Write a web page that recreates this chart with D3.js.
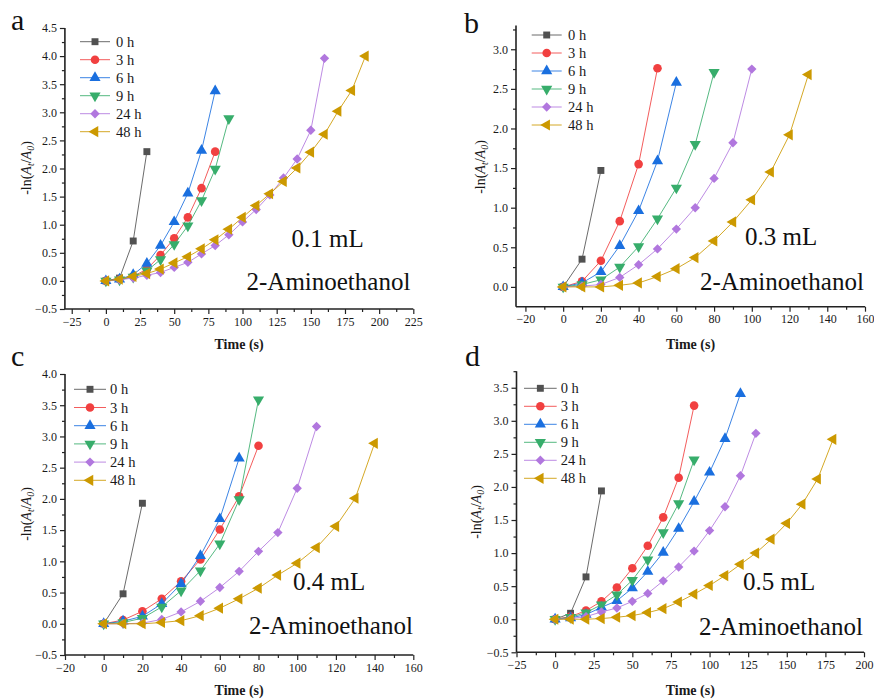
<!DOCTYPE html>
<html>
<head>
<meta charset="utf-8">
<script src="https://cdn.jsdelivr.net/npm/d3@7"></script>
<style>
  html, body { margin: 0; padding: 0; background: #fff; }
  svg { display: block; font-family: "Liberation Serif", "Times New Roman", serif; }
  svg text { font-family: "Liberation Serif", "Times New Roman", serif; }
</style>
</head>
<body>
<svg id="chart" width="874" height="699"></svg>
<script>
// Series labels (aging time of the solution) and sampling times in seconds
const seriesNames = ["0 h", "3 h", "6 h", "9 h", "24 h", "48 h"];
const times = [0, 10, 20, 30, 40, 50, 60, 70, 80, 90, 100, 110, 120, 130, 140, 150, 160, 170, 180, 190];

// Panel a: 0.1 mL 2-Aminoethanol, -ln(At/A0)
const a0h  = [0, 0.05, 0.71, 2.30];
const a3h  = [0, 0.03, 0.08, 0.21, 0.46, 0.76, 1.13, 1.65, 2.30];
const a6h  = [0, 0.03, 0.11, 0.31, 0.63, 1.05, 1.56, 2.32, 3.38];
const a9h  = [0, 0.02, 0.07, 0.18, 0.38, 0.65, 0.98, 1.43, 1.99, 2.89];
const a24h = [0, 0.02, 0.05, 0.10, 0.15, 0.24, 0.33, 0.48, 0.63, 0.82, 1.05, 1.27, 1.53, 1.83, 2.17, 2.68, 3.96];
const a48h = [0, 0.03, 0.08, 0.13, 0.21, 0.32, 0.43, 0.57, 0.73, 0.92, 1.13, 1.34, 1.55, 1.77, 2.01, 2.29, 2.61, 3.02, 3.39, 4.00];

// Panel b: 0.3 mL
const b0h  = [0, 0.35, 1.47];
const b3h  = [0, 0.07, 0.33, 0.83, 1.55, 2.76];
const b6h  = [0, 0.05, 0.19, 0.52, 0.96, 1.59, 2.58];
const b9h  = [0, 0.03, 0.09, 0.25, 0.51, 0.86, 1.25, 1.80, 2.71];
const b24h = [0, 0.01, 0.03, 0.12, 0.28, 0.48, 0.73, 1.00, 1.37, 1.82, 2.75];
const b48h = [0, 0.00, 0.00, 0.02, 0.05, 0.13, 0.23, 0.37, 0.58, 0.82, 1.10, 1.45, 1.92, 2.68];

// Panel c: 0.4 mL
const c0h  = [0, 0.48, 1.93];
const c3h  = [0, 0.06, 0.20, 0.40, 0.68, 1.03, 1.51, 2.04, 2.85];
const c6h  = [0, 0.04, 0.12, 0.32, 0.64, 1.09, 1.68, 2.65];
const c9h  = [0, 0.02, 0.09, 0.27, 0.53, 0.85, 1.28, 1.99, 3.59];
const c24h = [0, 0.00, 0.01, 0.07, 0.19, 0.36, 0.58, 0.84, 1.16, 1.46, 2.17, 3.16];
const c48h = [0, 0.00, 0.00, 0.02, 0.05, 0.13, 0.25, 0.40, 0.57, 0.78, 0.97, 1.22, 1.56, 2.01, 2.89];

// Panel d: 0.5 mL
const d0h  = [0, 0.09, 0.64, 1.94];
const d3h  = [0, 0.04, 0.13, 0.27, 0.48, 0.77, 1.11, 1.54, 2.14, 3.23];
const d6h  = [0, 0.02, 0.07, 0.18, 0.28, 0.47, 0.72, 1.01, 1.37, 1.78, 2.22, 2.73, 3.41];
const d9h  = [0, 0.03, 0.10, 0.22, 0.37, 0.59, 0.90, 1.31, 1.75, 2.41];
const d24h = [0, 0.01, 0.04, 0.11, 0.17, 0.27, 0.39, 0.58, 0.79, 1.03, 1.34, 1.70, 2.17, 2.81];
const d48h = [0, 0.00, 0.00, 0.01, 0.03, 0.055, 0.10, 0.16, 0.26, 0.38, 0.51, 0.66, 0.83, 1.00, 1.21, 1.45, 1.74, 2.12, 2.72];

// Axis tick labels
const xTicksA = [-25, 0, 25, 50, 75, 100, 125, 150, 175, 200, 225];
const xTicksB = [-20, 0, 20, 40, 60, 80, 100, 120, 140, 160];
const xTicksC = [-20, 0, 20, 40, 60, 80, 100, 120, 140, 160];
const xTicksD = [-25, 0, 25, 50, 75, 100, 125, 150, 175, 200];
const yTicksA = [-0.5, 0, 0.5, 1, 1.5, 2, 2.5, 3, 3.5, 4, 4.5];
const yTicksB = [0, 0.5, 1, 1.5, 2, 2.5, 3];
const yTicksC = [-0.5, 0, 0.5, 1, 1.5, 2, 2.5, 3, 3.5, 4];
const yTicksD = [-0.5, 0, 0.5, 1, 1.5, 2, 2.5, 3, 3.5];

const volumeLabels = ["0.1 mL", "0.3 mL", "0.4 mL", "0.5 mL"];
const panelLetters = ["a", "b", "c", "d"];

// Series styling
const colors = ["#515151", "#F14040", "#1A6FDF", "#37AD6B", "#B177DE", "#CC9900"];
const shapes = [
  { type: d3.symbolSquare, size: 48, rot: 0 },
  { type: d3.symbolCircle, size: 58, rot: 0 },
  { type: d3.symbolTriangle, size: 54, rot: 0 },
  { type: d3.symbolTriangle, size: 54, rot: 180 },
  { type: d3.symbolSquare, size: 44, rot: 45 },
  { type: d3.symbolTriangle, size: 54, rot: -90 }
];

// Layout of the four panels
const panels = [
  { letter: 0, values: [a0h, a3h, a6h, a9h, a24h, a48h],
    xDomain: [-30, 225], xRange: [64.9, 413.3], yDomain: [-0.5, 4.5], yRange: [309, 28],
    xTicks: xTicksA, yTicks: yTicksA, xMinor: 12.5, yMinor: 0.25,
    letterPos: [11, 30], legend: { x0: 80, x1: 110, tx: 116, y0: 41.7, dy: 18 },
    volPos: [291.5, 246.5], namePos: [246.5, 290], timeY: 349, yTitle: [31, 168] },
  { letter: 1, values: [b0h, b3h, b6h, b9h, b24h, b48h],
    xDomain: [-25, 160], xRange: [516, 865], yDomain: [-0.25, 3.3], yRange: [306.7, 25.5],
    xTicks: xTicksB, yTicks: yTicksB, xMinor: 10, yMinor: 0.25,
    letterPos: [464, 33], legend: { x0: 531.7, x1: 561.7, tx: 568, y0: 35, dy: 18 },
    volPos: [745, 245], namePos: [700, 290], timeY: 349, yTitle: [485, 167] },
  { letter: 2, values: [c0h, c3h, c6h, c9h, c24h, c48h],
    xDomain: [-20, 160], xRange: [65, 413.3], yDomain: [-0.5, 4.0], yRange: [655, 374],
    xTicks: xTicksC, yTicks: yTicksC, xMinor: 10, yMinor: 0.25,
    letterPos: [11, 365.7], legend: { x0: 74, x1: 106, tx: 110, y0: 389.3, dy: 18.2 },
    volPos: [293, 590], namePos: [249, 634.3], timeY: 695, yTitle: [31, 514] },
  { letter: 3, values: [d0h, d3h, d6h, d9h, d24h, d48h],
    xDomain: [-25, 200], xRange: [516.5, 864], yDomain: [-0.5, 3.75], yRange: [652.3, 371.2],
    xTicks: xTicksD, yTicks: yTicksD, xMinor: 12.5, yMinor: 0.25,
    letterPos: [465, 365.7], legend: { x0: 524, x1: 556.7, tx: 560.7, y0: 388.3, dy: 18 },
    volPos: [743, 590], namePos: [699, 635], timeY: 695, yTitle: [481, 512] }
];

const svg = d3.select("#chart");
const axisColor = "#222";
const serif = "'Liberation Serif', 'Times New Roman', serif";

function symbolPath(i) {
  return d3.symbol().type(shapes[i].type).size(shapes[i].size)();
}

panels.forEach(p => {
  const g = svg.append("g");
  const x = d3.scaleLinear().domain(p.xDomain).range(p.xRange);
  const y = d3.scaleLinear().domain(p.yDomain).range(p.yRange);

  // minor ticks between the labelled ones
  const xMinorVals = d3.range(Math.ceil(p.xDomain[0] / p.xMinor) * p.xMinor, p.xDomain[1] + 1e-9, p.xMinor)
    .filter(v => !p.xTicks.some(t => Math.abs(t - v) < 1e-9));
  const yMinorVals = d3.range(Math.ceil(p.yDomain[0] / p.yMinor) * p.yMinor, p.yDomain[1] + 1e-9, p.yMinor)
    .filter(v => !p.yTicks.some(t => Math.abs(t - v) < 1e-9) && v > p.yDomain[0] + 1e-9);

  const xAxisMinor = d3.axisBottom(x).tickValues(xMinorVals).tickSize(3).tickFormat("");
  const yAxisMinor = d3.axisLeft(y).tickValues(yMinorVals).tickSize(3).tickFormat("");
  const xAxis = d3.axisBottom(x).tickValues(p.xTicks).tickSize(5).tickPadding(3).tickFormat(d3.format("d"));
  const yAxis = d3.axisLeft(y).tickValues(p.yTicks).tickSize(5).tickPadding(3).tickFormat(d3.format(".1f"));

  const y0 = p.yRange[0];
  const x0 = p.xRange[0];

  [xAxisMinor, xAxis].forEach(ax => {
    g.append("g").attr("transform", `translate(0,${y0})`).call(ax)
      .attr("font-family", serif)
      .call(s => s.select(".domain").remove());
  });
  [yAxisMinor, yAxis].forEach(ax => {
    g.append("g").attr("transform", `translate(${x0},0)`).call(ax)
      .attr("font-family", serif)
      .call(s => s.select(".domain").remove());
  });
  g.selectAll(".tick line").attr("stroke", axisColor).attr("stroke-width", 1.2);
  g.selectAll(".tick text").attr("fill", "#1a1a1a")
    .style("font-family", serif).style("font-size", "12px");

  // axis lines
  g.append("line").attr("x1", x0).attr("x2", p.xRange[1]).attr("y1", y0).attr("y2", y0)
    .attr("stroke", axisColor).attr("stroke-width", 1.6);
  g.append("line").attr("x1", x0).attr("x2", x0).attr("y1", p.yRange[1]).attr("y2", y0)
    .attr("stroke", axisColor).attr("stroke-width", 1.6);

  // series: line then markers, later series drawn on top
  const line = d3.line().x((d, i) => x(times[i])).y(d => y(d));
  p.values.forEach((vals, si) => {
    const sg = g.append("g");
    sg.append("path").datum(vals).attr("d", line)
      .attr("fill", "none").attr("stroke", colors[si]).attr("stroke-width", 1).attr("stroke-opacity", 0.85);
    sg.selectAll("path.m").data(vals).join("path").attr("class", "m")
      .attr("d", symbolPath(si))
      .attr("transform", (d, i) => `translate(${x(times[i])},${y(d)}) rotate(${shapes[si].rot})`)
      .attr("fill", colors[si]);
  });

  // legend
  const L = p.legend;
  seriesNames.forEach((name, si) => {
    const ly = L.y0 + si * L.dy;
    g.append("line").attr("x1", L.x0).attr("x2", L.x1).attr("y1", ly).attr("y2", ly)
      .attr("stroke", colors[si]).attr("stroke-width", 1).attr("stroke-opacity", 0.85);
    g.append("path").attr("d", symbolPath(si))
      .attr("transform", `translate(${(L.x0 + L.x1) / 2},${ly}) rotate(${shapes[si].rot})`)
      .attr("fill", colors[si]);
    g.append("text").attr("x", L.tx).attr("y", ly + 5).attr("font-size", 14.5)
      .attr("fill", "#1a1a1a").text(name);
  });

  // annotations
  g.append("text").attr("x", p.volPos[0]).attr("y", p.volPos[1]).attr("font-size", 25)
    .attr("fill", "#111").text(volumeLabels[p.letter]);
  g.append("text").attr("x", p.namePos[0]).attr("y", p.namePos[1]).attr("font-size", 25)
    .attr("fill", "#111").text("2-Aminoethanol");

  // panel letter
  g.append("text").attr("x", p.letterPos[0]).attr("y", p.letterPos[1]).attr("font-size", 30)
    .attr("fill", "#111").text(panelLetters[p.letter]);

  // axis titles
  g.append("text").attr("x", (p.xRange[0] + p.xRange[1]) / 2).attr("y", p.timeY)
    .attr("text-anchor", "middle").attr("font-size", 14).attr("font-weight", "bold")
    .attr("fill", "#1a1a1a").text("Time (s)");

  const yt = g.append("text")
    .attr("transform", `translate(${p.yTitle[0]},${p.yTitle[1]}) rotate(-90)`)
    .attr("text-anchor", "middle").attr("font-size", 14).attr("fill", "#1a1a1a");
  yt.append("tspan").text("-ln(");
  yt.append("tspan").attr("font-style", "italic").text("A");
  yt.append("tspan").attr("font-style", "italic").attr("font-size", 10).attr("dy", 3).text("t");
  yt.append("tspan").attr("dy", -3).text("/");
  yt.append("tspan").attr("font-style", "italic").text("A");
  yt.append("tspan").attr("font-style", "italic").attr("font-size", 10).attr("dy", 3).text("0");
  yt.append("tspan").attr("dy", -3).text(")");
});
</script>
</body>
</html>
